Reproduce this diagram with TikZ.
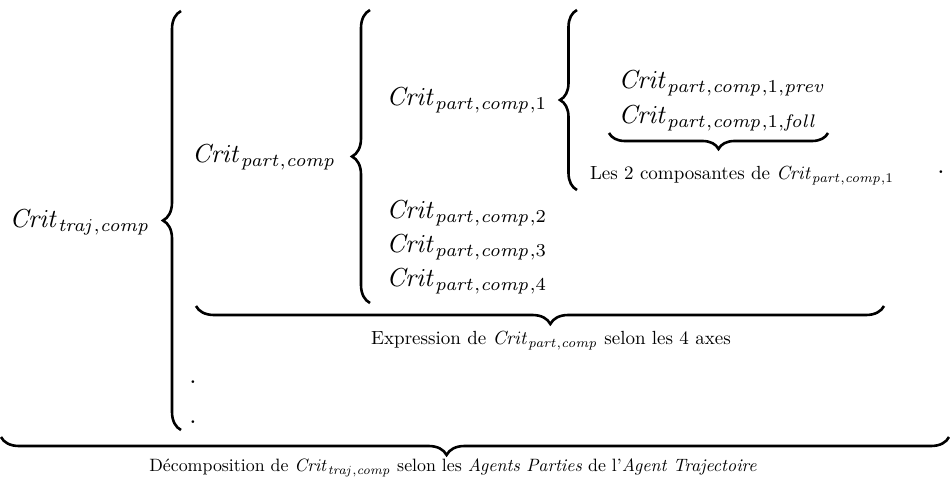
\documentclass[tikz,border=0pt]{standalone}
\usetikzlibrary{decorations.pathreplacing}
\newcommand\critx[1]{\mathit{Crit}_{#1}}
\begin{document}
\begin{tikzpicture}[x=1pt,y=-1pt,
  bigtext/.style={inner sep=0pt, scale=2.6},
  lbl/.style={inner sep=0pt, scale=1.9},
  bracedeco/.style={decorate, decoration={brace, amplitude=#1}, line width=2.6pt},
  bracedeco/.default=18pt,
]
\useasboundingbox (0,0) rectangle (950,484);

% level 1
\node[bigtext, anchor=east] (ctraj) at (151,222) {$\critx{\mathit{traj},\mathit{comp}}$};
\coordinate (b1bot) at (181,430);
\coordinate (b1top) at (181,11);
\draw[bracedeco] (b1bot) -- (b1top);

% level 2
\node[bigtext, anchor=east] (cpart) at (337,157) {$\critx{\mathit{part},\mathit{comp}}$};
\coordinate (b2bot) at (370,303);
\coordinate (b2top) at (370,10);
\draw[bracedeco] (b2bot) -- (b2top);

% level 3
\node[bigtext, anchor=west] (c1) at (386,100) {$\critx{\mathit{part},\mathit{comp},1}$};
\coordinate (b3bot) at (577,190);
\coordinate (b3top) at (577,10);
\draw[bracedeco=17pt] (b3bot) -- (b3top);

\node[bigtext, anchor=west] (cprev) at (618,83) {$\critx{\mathit{part},\mathit{comp},1,\mathit{prev}}$};
\node[bigtext, anchor=west] (cfoll) at (618,118) {$\critx{\mathit{part},\mathit{comp},1,\mathit{foll}}$};
\coordinate (u3r) at (828,133);
\coordinate (u3l) at (609,133);
\draw[bracedeco=16pt] (u3r) -- (u3l);
\node[lbl] (l1) at (742,176) {Les 2 composantes de $\critx{\mathit{part},\mathit{comp},1}$};
\node[bigtext] (dot1) at (941,172) {.};

\node[bigtext, anchor=west] (c2) at (386,213) {$\critx{\mathit{part},\mathit{comp},2}$};
\node[bigtext, anchor=west] (c3) at (386,247) {$\critx{\mathit{part},\mathit{comp},3}$};
\node[bigtext, anchor=west] (c4) at (386,281) {$\critx{\mathit{part},\mathit{comp},4}$};

\coordinate (u2r) at (884,306);
\coordinate (u2l) at (196,306);
\draw[bracedeco, decoration={aspect=0.485}] (u2r) -- (u2l);
\node[lbl] (l2) at (551,341) {Expression de $\critx{\mathit{part},\mathit{comp}}$ selon les 4 axes};

\node[bigtext] (dot2) at (193,382) {.};
\node[bigtext] (dot3) at (193,422) {.};

\coordinate (u1r) at (949,437);
\coordinate (u1l) at (1,437);
\draw[bracedeco, decoration={aspect=0.53}] (u1r) -- (u1l);
\node[lbl, scale=0.94] (l3) at (453,468) {D\'ecomposition de $\critx{\mathit{traj},\mathit{comp}}$ selon les \textit{Agents Parties} de l'\textit{Agent Trajectoire}};
\end{tikzpicture}
\end{document}
